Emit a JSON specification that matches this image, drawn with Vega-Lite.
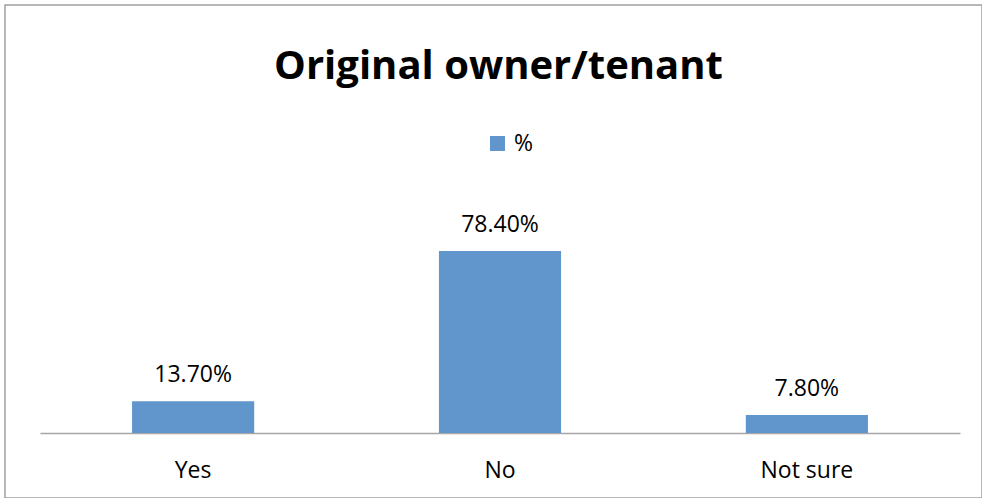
{
  "$schema": "https://vega.github.io/schema/vega-lite/v6.json",
  "autosize": {"type": "none"},
  "padding": {"left": 5, "top": 5, "right": 0, "bottom": 0},
  "width": 977,
  "height": 493,
  "background": "white",
  "config": {
    "view": {"stroke": "#a0a0a0", "strokeWidth": 1.5},
    "font": "Open Sans"
  },
  "title": {
    "text": "Original owner/tenant",
    "font": "Open Sans",
    "fontSize": 40,
    "fontWeight": "bold",
    "color": "black",
    "anchor": "middle",
    "frame": "group",
    "baseline": "alphabetic",
    "offset": -114,
    "dx": 5
  },
  "data": {
    "values": [
      {"answer": "Yes", "value": 0.137, "series": "%"},
      {"answer": "No", "value": 0.784, "series": "%"},
      {"answer": "Not sure", "value": 0.078, "series": "%"}
    ]
  },
  "encoding": {
    "x": {
      "field": "answer",
      "type": "nominal",
      "sort": null,
      "scale": {"range": [35, 955], "paddingInner": 0.602, "paddingOuter": 0.3},
      "axis": {
        "title": null,
        "orient": "bottom",
        "offset": -65,
        "ticks": false,
        "labelAngle": 0,
        "labelFont": "Open Sans",
        "labelFontSize": 23,
        "labelColor": "black",
        "labelBaseline": "alphabetic",
        "labelPadding": 44,
        "domainColor": "#a6a6a6",
        "domainWidth": 1.5,
        "grid": false
      }
    },
    "y": {
      "field": "value",
      "type": "quantitative",
      "scale": {"domain": [-0.2802, 1.8448], "nice": false, "zero": false},
      "axis": null
    }
  },
  "layer": [
    {
      "mark": {"type": "bar"},
      "encoding": {
        "color": {
          "field": "series",
          "type": "nominal",
          "scale": {"range": ["#6096CB"]},
          "legend": {
            "title": null,
            "orient": "none",
            "legendX": 481,
            "legendY": 127,
            "symbolType": "square",
            "symbolSize": 225,
            "symbolStrokeWidth": 0,
            "labelFont": "Open Sans",
            "labelFontSize": 23,
            "labelColor": "black",
            "labelOffset": 5
          }
        }
      }
    },
    {
      "mark": {"type": "text", "baseline": "alphabetic", "dy": -19, "font": "Open Sans", "fontSize": 23, "color": "black"},
      "encoding": {
        "text": {"field": "value", "type": "quantitative", "format": ".2%"}
      }
    }
  ]
}
